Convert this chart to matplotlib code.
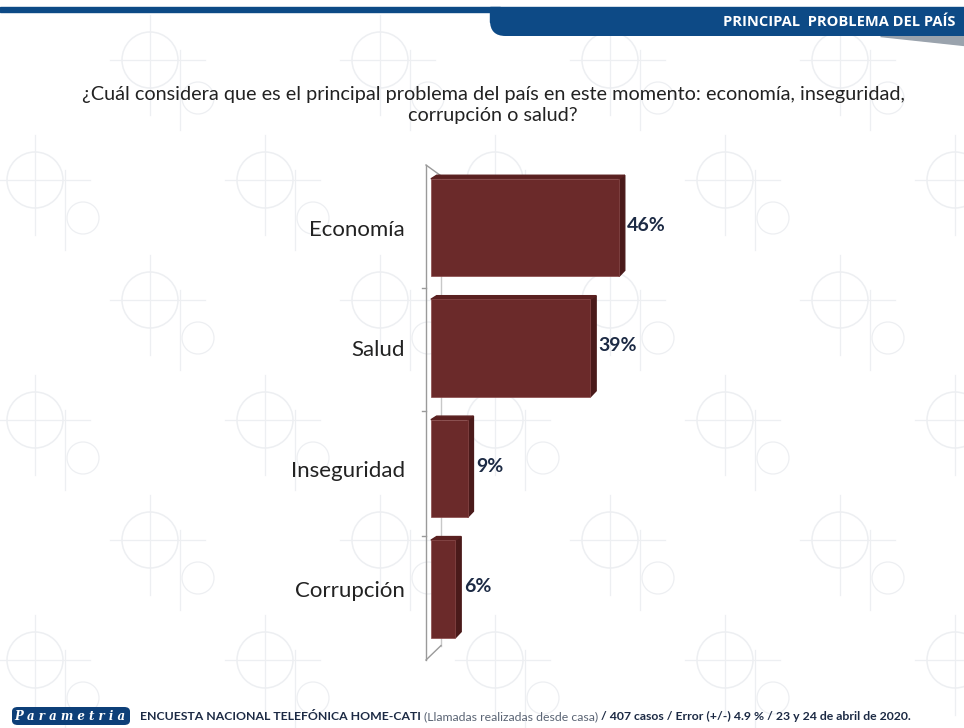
import numpy as np
import matplotlib.pyplot as plt
from matplotlib.patches import FancyBboxPatch, Rectangle, Polygon, Circle

categorias = ['Economía', 'Salud', 'Inseguridad', 'Corrupción']
porcentajes = [46, 39, 9, 6]

pregunta = ('¿Cuál considera que es el principal problema del país en este momento: '
            'economía, inseguridad,\ncorrupción o salud?')
encabezado = 'PRINCIPAL  PROBLEMA DEL PAÍS'
pie = [('ENCUESTA NACIONAL TELEFÓNICA HOME-CATI ', 'bold', '#1c2a44'),
       ('(Llamadas realizadas desde casa) ', 'normal', '#5a6474'),
       ('/ 407 casos / Error (+/-) 4.9 % / 23 y 24 de abril de 2020.', 'bold', '#1c2a44')]

W, H = 964, 728
color_barra = '#6b2a2a'
color_lado = '#4a1a1a'
texto_oscuro = '#1c2a44'
azul = '#0d4a86'

plt.rcParams['font.family'] = ['Lato', 'DejaVu Sans']

fig = plt.figure(figsize=(W / 100, H / 100), dpi=100)
fig.patch.set_facecolor('white')


def px(x, y):
    # pixel coords (origin top-left) -> figure fraction
    return x / W, 1 - y / H


# faint graph-paper watermark behind everything
bg = fig.add_axes([0, 0, 1, 1], zorder=-10)
bg.set_xlim(0, W)
bg.set_ylim(H, 0)
bg.axis('off')
marca = '#edeff2'
for fila, y0 in enumerate(range(20, H, 120)):
    desfase = 115 if fila % 2 else 0
    for x0 in range(-120 + desfase, W, 230):
        bg.add_patch(Circle((x0 + 40, y0 + 40), 28, fill=False, ec=marca, lw=1.1))
        bg.plot([x0, x0 + 95], [y0 + 40, y0 + 40], color=marca, lw=0.9)
        bg.plot([x0 + 40, x0 + 40], [y0 - 5, y0 + 95], color=marca, lw=0.9)
        bg.plot([x0 + 70, x0 + 70], [y0 + 30, y0 + 110], color=marca, lw=0.9)
        bg.add_patch(Circle((x0 + 88, y0 + 78), 16, fill=False, ec=marca, lw=0.9))

# header band
fig.patches.append(Rectangle(px(0, 12), 500 / W, 5 / H, transform=fig.transFigure,
                             color=azul, zorder=2))
fig.patches.append(FancyBboxPatch(px(490, 36), (W - 490 + 20) / W, 29 / H,
                                  boxstyle='round,pad=0,rounding_size=0.016',
                                  mutation_aspect=W / H, transform=fig.transFigure,
                                  fc=azul, ec='none', zorder=2))
fig.patches.append(Rectangle(px(490, 22), (W - 490) / W, 15 / H, transform=fig.transFigure,
                             color=azul, zorder=2))
fig.patches.append(Polygon([px(880, 36), px(W, 36), px(W, 45)], closed=True,
                           transform=fig.transFigure, color='#9aa3ad', zorder=1))
fig.text(*px(955, 22), encabezado, ha='right', va='center', color='white',
         fontsize=10.5, fontweight='bold', family=['Open Sans', 'DejaVu Sans'])

# question
fig.text(*px(493, 105), pregunta, ha='center', va='center', color='#222222',
         fontsize=14.3, linespacing=1.25)

# bar chart
escala = 4.09  # pixels per percentage point
x_min = -1.2
ax_left, ax_top, ax_bottom = 426, 165, 660
ancho = (100 - x_min) * escala
ax = fig.add_axes([ax_left / W, 1 - ax_bottom / H, ancho / W, (ax_bottom - ax_top) / H])
ax.set_facecolor('none')
ax.set_xlim(x_min, 100)
y_top, y_bot = -0.52, 3.59
ax.set_ylim(y_bot, y_top)
for s in ax.spines.values():
    s.set_visible(False)
ax.set_xticks([])
ax.set_yticks(range(len(categorias)))
ax.set_yticklabels(categorias, fontsize=16, color='#222222')
ax.tick_params(axis='y', length=0, pad=15)

# 3D frame of the category axis
prof = 15 / escala
gris = '#9a9a9a'
ax.plot([x_min, x_min], [y_top, y_bot], color=gris, lw=1, clip_on=False)
ax.plot([x_min + prof, x_min + prof], [y_top + 0.09, y_bot - 0.12],
        color='#c8c8c8', lw=1, clip_on=False)
ax.plot([x_min, x_min + prof], [y_top, y_top + 0.09], color=gris, lw=1, clip_on=False)
ax.plot([x_min, x_min + prof], [y_bot, y_bot - 0.12], color=gris, lw=1, clip_on=False)
for yb in [0.5, 1.52, 2.56]:
    ax.plot([x_min - 1.0, x_min], [yb, yb], color=gris, lw=1, clip_on=False)

pos = np.arange(len(categorias))
alto = 0.81
ax.barh(pos, porcentajes, height=alto, left=0, color=color_barra,
        edgecolor='#8a4a4a', linewidth=0.5, zorder=3)
d = 1.4  # depth of the bar side, in percentage points
for y, v in zip(pos, porcentajes):
    lado = [(v, y - alto / 2), (v + d, y - alto / 2 - 0.03),
            (v + d, y + alto / 2 - 0.05), (v, y + alto / 2)]
    ax.add_patch(Polygon(lado, closed=True, color=color_lado, zorder=2))
    arriba = [(0, y - alto / 2), (d, y - alto / 2 - 0.03),
              (v + d, y - alto / 2 - 0.03), (v, y - alto / 2)]
    ax.add_patch(Polygon(arriba, closed=True, color='#5a2020', zorder=2))
    ax.text(v + 2.0, y - 0.02, f'{v}%', va='center', ha='left', fontsize=14,
            fontweight='bold', color=texto_oscuro, zorder=4)

# footer badge and source line
fig.patches.append(FancyBboxPatch(px(12, 725), 118 / W, 18 / H,
                                  boxstyle='round,pad=0,rounding_size=0.006',
                                  transform=fig.transFigure, fc='#0d3f78', ec='none'))
fig.text(*px(70, 716.5), 'P a r a m e t r i a', ha='center', va='center', color='white',
         fontsize=8.5, fontweight='bold', style='italic', family='DejaVu Serif')

fig.canvas.draw()
renderer = fig.canvas.get_renderer()
x_txt = 140 / W
for frase, peso, col in pie:
    t = fig.text(x_txt, 1 - 716.5 / H, frase, ha='left', va='center', color=col,
                 fontsize=8.8, fontweight=peso, family=['Lato', 'DejaVu Sans'])
    bb = t.get_window_extent(renderer)
    x_txt += bb.width / W

fig.savefig('out.png', dpi=100, facecolor='white')
